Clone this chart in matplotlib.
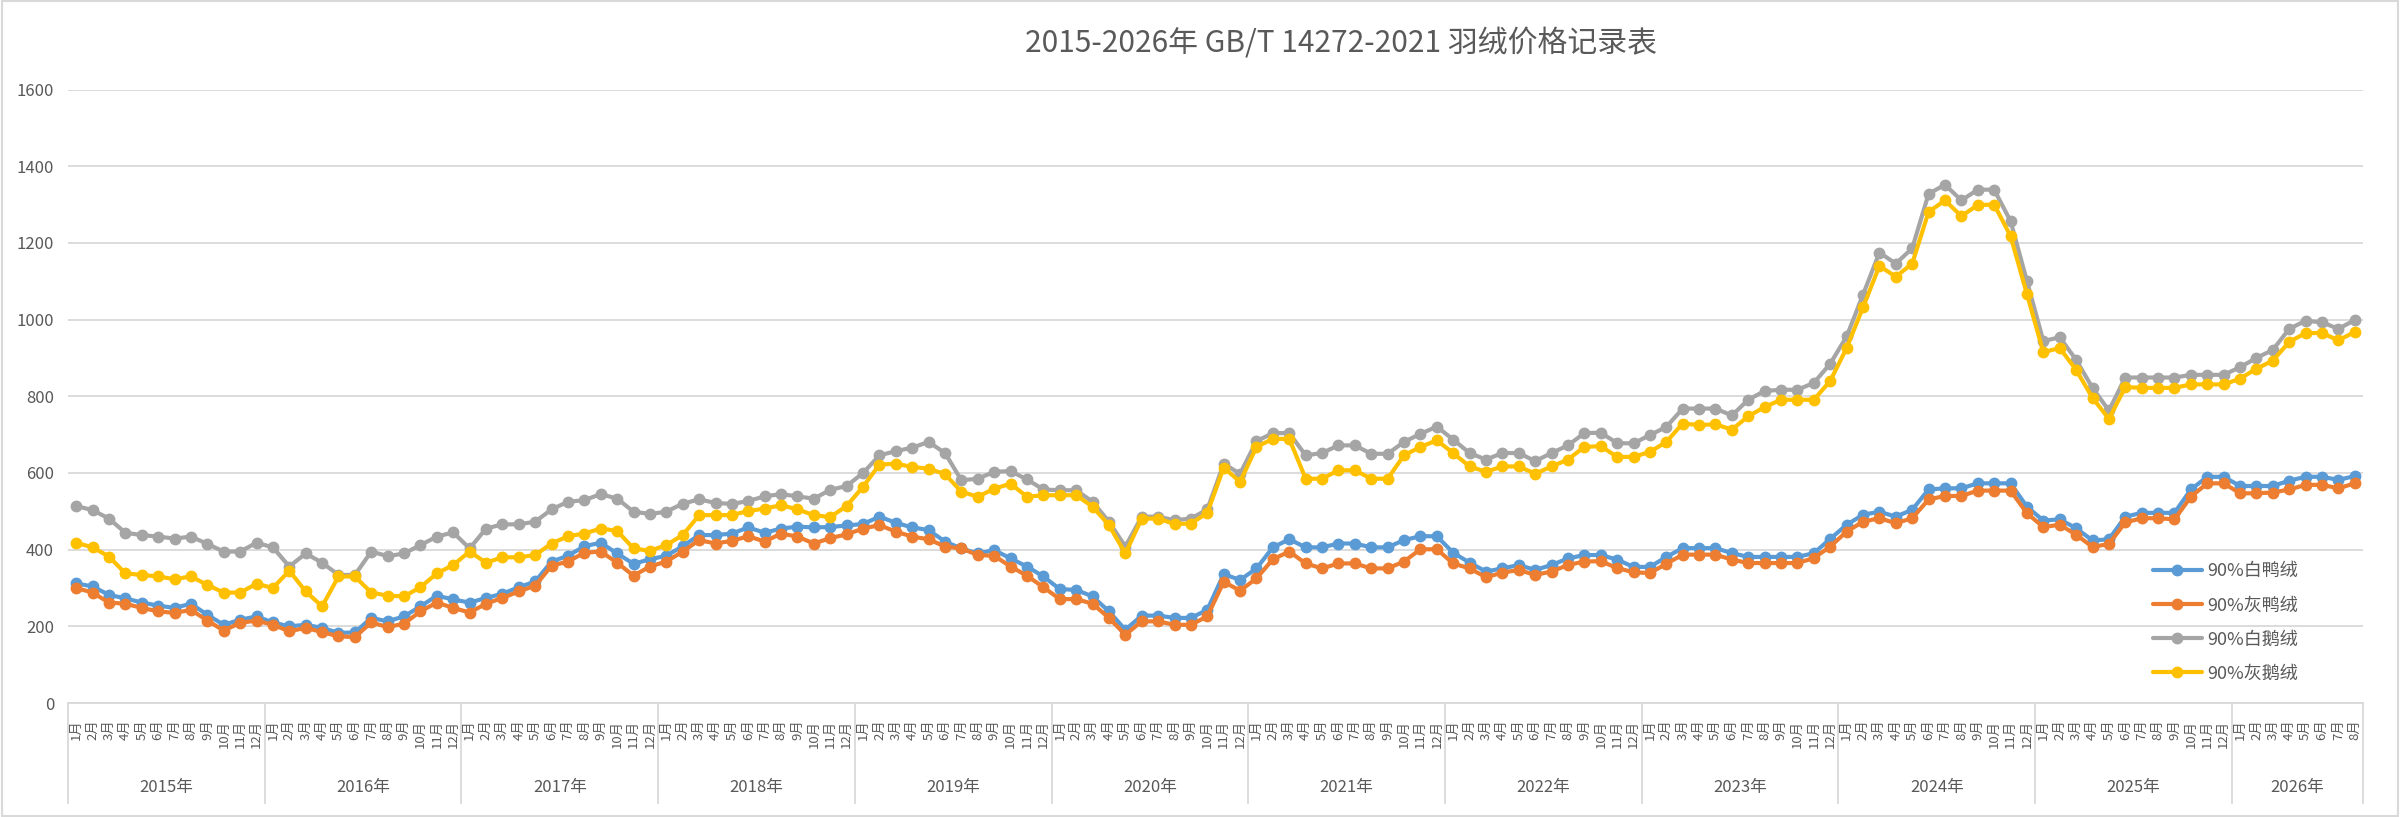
import matplotlib
matplotlib.use("Agg")
import matplotlib.pyplot as plt
from matplotlib.patches import Rectangle

plt.rcParams['font.family'] = ['Noto Sans CJK SC', 'DejaVu Sans']

# 月份与年份
years = ["2015年", "2016年", "2017年", "2018年", "2019年", "2020年",
         "2021年", "2022年", "2023年", "2024年", "2025年", "2026年"]
months_in_year = [12, 12, 12, 12, 12, 12, 12, 12, 12, 12, 12, 8]
month_labels = [f"{m}月" for n in months_in_year for m in range(1, n + 1)]

# 90%白鸭绒
white_duck = [
    312, 304, 282, 273, 262, 254, 248, 259, 230, 204, 217, 226,
    210, 200, 204, 196, 183, 184, 222, 213, 226, 252, 280, 270,
    262, 274, 285, 302, 317, 369, 384, 409, 418, 390, 363, 375,
    384, 409, 438, 438, 442, 458, 444, 455, 460, 458, 459, 463,
    467, 486, 470, 458, 451, 421, 403, 390, 399, 377, 356, 330,
    297, 295, 278, 239, 191, 228, 228, 222, 222, 243, 336, 321,
    351, 406, 427, 406, 406, 416, 416, 406, 406, 425, 435, 435,
    392, 366, 343, 351, 360, 347, 360, 377, 386, 386, 374, 355,
    355, 381, 404, 404, 404, 391, 381, 381, 381, 381, 391, 428,
    465, 491, 499, 486, 504, 557, 560, 560, 573, 573, 573, 512,
    476, 479, 456, 424, 427, 486, 496, 496, 496, 557, 590, 590,
    566, 566, 566, 580, 590, 590, 582, 592,
]
# 90%灰鸭绒
grey_duck = [
    300, 288, 262, 259, 248, 239, 235, 243, 215, 189, 209, 215,
    204, 187, 196, 185, 174, 172, 210, 198, 207, 239, 262, 248,
    236, 259, 274, 291, 306, 358, 369, 392, 395, 366, 332, 356,
    369, 395, 425, 416, 423, 435, 421, 442, 434, 416, 430, 440,
    455, 464, 447, 434, 427, 408, 403, 386, 384, 356, 332, 302,
    271, 271, 259, 222, 178, 213, 213, 204, 204, 226, 316, 293,
    325, 375, 395, 364, 351, 364, 364, 351, 351, 369, 401, 401,
    364, 351, 328, 340, 347, 334, 343, 360, 369, 370, 352, 341,
    339, 363, 387, 387, 387, 374, 365, 365, 365, 365, 378, 408,
    447, 473, 482, 469, 482, 531, 540, 540, 554, 554, 554, 495,
    459, 465, 439, 407, 415, 471, 482, 482, 479, 538, 573, 573,
    547, 547, 549, 557, 569, 569, 560, 573,
]
# 90%白鹅绒
white_goose = [
    514, 503, 481, 444, 438, 434, 429, 434, 415, 395, 395, 418,
    406, 356, 390, 366, 334, 334, 395, 383, 390, 412, 434, 445,
    403, 455, 466, 466, 473, 505, 525, 529, 545, 533, 499, 493,
    499, 520, 531, 522, 519, 527, 539, 545, 539, 533, 556, 566,
    600, 646, 657, 666, 681, 652, 581, 585, 603, 605, 583, 557,
    555, 555, 525, 473, 408, 486, 486, 477, 481, 505, 624, 598,
    683, 704, 704, 646, 652, 672, 672, 650, 650, 681, 702, 721,
    687, 652, 635, 652, 652, 631, 652, 672, 704, 705, 678, 677,
    699, 720, 768, 768, 768, 750, 791, 814, 817, 817, 835, 885,
    956, 1065, 1175, 1146, 1186, 1328, 1352, 1311, 1339, 1339, 1257, 1100,
    944, 954, 895, 822, 763, 849, 849, 849, 849, 856, 856, 856,
    876, 900, 921, 976, 997, 993, 976, 999,
]
# 90%灰鹅绒
grey_goose = [
    418, 406, 382, 338, 334, 330, 323, 330, 308, 288, 288, 311,
    300, 345, 291, 252, 330, 330, 288, 280, 278, 302, 338, 360,
    395, 366, 380, 380, 386, 416, 435, 442, 455, 449, 403, 397,
    412, 438, 490, 490, 490, 501, 507, 516, 505, 490, 485, 514,
    564, 622, 624, 616, 611, 597, 551, 538, 559, 572, 538, 542,
    542, 542, 512, 464, 390, 481, 481, 467, 468, 496, 614, 577,
    668, 689, 689, 585, 585, 607, 607, 585, 585, 646, 668, 685,
    652, 617, 603, 617, 617, 598, 617, 635, 668, 670, 642, 642,
    655, 681, 729, 725, 727, 713, 748, 772, 791, 791, 791, 840,
    926, 1032, 1140, 1112, 1146, 1281, 1311, 1270, 1299, 1300, 1218, 1067,
    915, 926, 869, 796, 741, 824, 822, 822, 822, 831, 831, 831,
    846, 872, 893, 942, 965, 965, 946, 968,
]

series_names = ["90%白鸭绒", "90%灰鸭绒", "90%白鹅绒", "90%灰鹅绒"]
series_colors = ["#5B9BD5", "#ED7D31", "#A5A5A5", "#FFC000"]
series_values = [white_duck, grey_duck, white_goose, grey_goose]

text_color = "#595959"
grid_color = "#D9D9D9"

fig = plt.figure(figsize=(24, 8.17), dpi=100)
ax = fig.add_axes([68 / 2400, 1 - 703 / 817, (2363 - 68) / 2400, (703 - 89.6) / 817])

x = list(range(len(month_labels)))
for name, color, vals in zip(series_names, series_colors, series_values):
    ax.plot(x, vals, color=color, lw=3, marker="o", markersize=7.5,
            label=name, solid_capstyle="round")

ax.set_xlim(-0.5, len(month_labels) - 0.5)
ax.set_ylim(0, 1600)
ax.set_yticks(range(0, 1601, 200))
ax.yaxis.grid(True, color=grid_color, lw=1.3)
ax.set_axisbelow(True)
for s in ["top", "right", "left"]:
    ax.spines[s].set_visible(False)
ax.spines["bottom"].set_color(grid_color)
ax.spines["bottom"].set_linewidth(1.3)
ax.tick_params(axis="y", length=0, pad=10, labelsize=12, labelcolor=text_color)

ax.set_xticks(x)
ax.set_xticklabels(month_labels, rotation=90, fontsize=9.5, color=text_color,
                   va="top", ha="center")
ax.tick_params(axis="x", length=0, pad=12)

# 年份分组
trans = ax.get_xaxis_transform()
start = 0
for yr, n in zip(years, months_in_year):
    ax.plot([start - 0.5, start - 0.5], [0, -0.163], transform=trans,
            color=grid_color, lw=1.3, clip_on=False)
    ax.text(start + n / 2 - 0.5, -0.137, yr, transform=trans, ha="center",
            va="center", fontsize=12, color=text_color)
    start += n
ax.plot([start - 0.5, start - 0.5], [0, -0.163], transform=trans,
        color=grid_color, lw=1.3, clip_on=False)

fig.text(1341 / 2400, 1 - 43 / 817, "2015-2026年 GB/T 14272-2021 羽绒价格记录表",
         ha="center", va="center", fontsize=21.5, color=text_color)

ax.legend(loc="upper left", bbox_to_anchor=(2153 / 2400, 1 - 562 / 817),
          bbox_transform=fig.transFigure, frameon=False, fontsize=13,
          labelcolor=text_color, handlelength=2.7, handletextpad=0.3,
          labelspacing=0.9, borderpad=0, borderaxespad=0)

fig.patches.append(Rectangle((0.0008, 0.0012), 0.9984, 0.9976,
                             transform=fig.transFigure, fill=False,
                             edgecolor=grid_color, lw=1.5))

fig.savefig("out.png", dpi=100)
